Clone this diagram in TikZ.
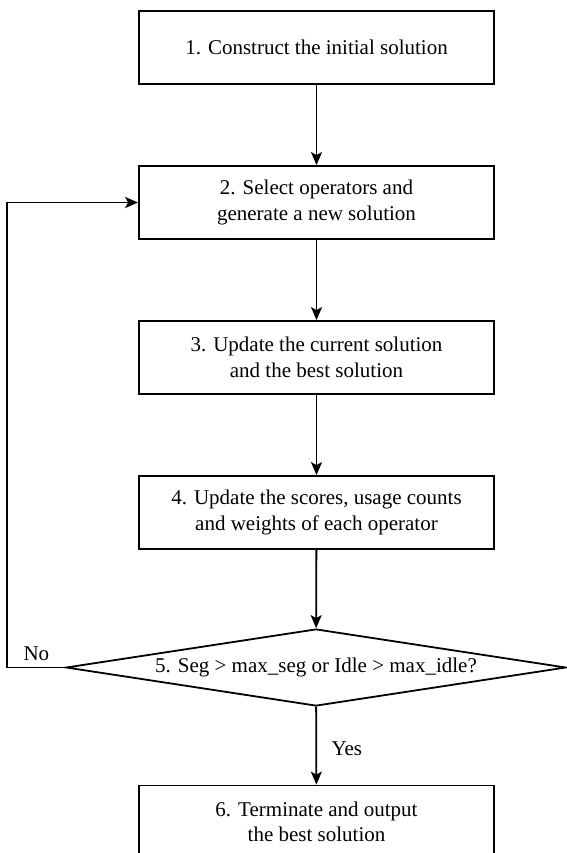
\documentclass[tikz,border=0pt]{standalone}
\usepackage{fontspec}
\setmainfont{Liberation Serif}
\newfontfamily\flowfont{Liberation Serif}
\usetikzlibrary{shapes.geometric,arrows.meta}
\begin{document}
\begin{tikzpicture}[x=1pt,y=-1pt,
  txt/.style={font=\flowfont\fontsize{21}{25.5}\selectfont},
  stepbox/.style={txt, draw, line width=1.8pt, minimum width=355pt,
    minimum height=73pt, inner sep=0pt, align=center},
  decision/.style={txt, diamond, draw, line width=1.8pt, aspect=6.5,
    minimum width=500pt, minimum height=77pt, inner sep=0pt},
  flow/.style={line width=1.8pt, -{Stealth[length=13pt,width=11pt,inset=3pt]}}]
\useasboundingbox (0,0) rectangle (566,853);

% process steps
\node[stepbox] (s1) at (316.5,47.5)  {1. Construct the initial solution};
\node[stepbox] (s2) at (316.5,202.5) {2. Select operators and\\generate a new solution};
\node[stepbox] (s3) at (316.5,357.5) {3. Update the current solution\\and the best solution};
\node[stepbox] (s4) at (316.5,512.5) {4. Update the scores, usage counts\\and weights of each operator};
\node[decision] (d5) at (316,667.5) {5. Seg > max\_seg or Idle > max\_idle?};
\node[stepbox] (s6) at (316.5,822)  {6. Terminate and output\\the best solution};

% main flow
\draw[flow] (s1) -- (s2);
\draw[flow] (s2) -- (s3);
\draw[flow] (s3) -- (s4);
\draw[flow] (s4) -- (d5);
\draw[flow] (d5) -- (s6);

% loop back when the stopping rule is not met
\draw[flow] (d5.west) -- ++(-58,0) coordinate (back) |- (s2.west);

% branch labels
\node[txt, anchor=base west] (no) at (20,660) {No};
\node[txt, anchor=base west] (yes) at (328,755) {Yes};
\end{tikzpicture}
\end{document}
